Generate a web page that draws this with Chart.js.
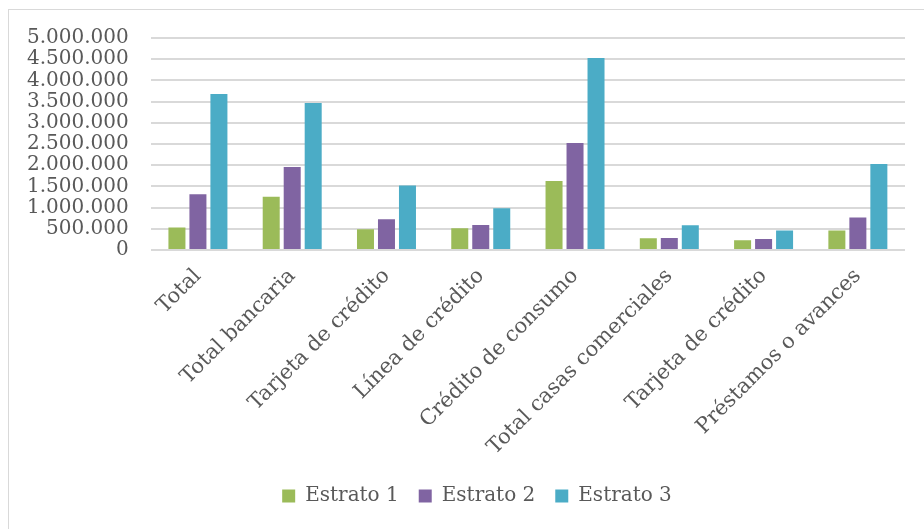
<!DOCTYPE html>
<html>
<head>
<meta charset="utf-8">
<script src="https://cdn.jsdelivr.net/npm/chart.js@4"></script>
<style>
  html, body { margin: 0; padding: 0; background: #fff; overflow: hidden; }
  #frame { position: absolute; left: 8px; top: 9px; width: 1000px; height: 1000px; border: 1px solid #d9d9d9; }
  #wrap { position: absolute; left: 0; top: 0; width: 924px; height: 529px; }
</style>
</head>
<body>
<div id="frame"></div>
<div id="wrap"><canvas id="chart" width="924" height="529"></canvas></div>
<script>
// Chart data
const categories = [
  "Total",
  "Total bancaria",
  "Tarjeta de crédito",
  "Línea de crédito",
  "Crédito de consumo",
  "Total casas comerciales",
  "Tarjeta de crédito",
  "Préstamos o avances",
];
const estrato1 = [526000, 1257000, 488000, 512000, 1627000, 276000, 228000, 456000];
const estrato2 = [1313000, 1957000, 724000, 590000, 2524000, 283000, 259000, 762000];
const estrato3 = [3679000, 3467000, 1517000, 983000, 4528000, 582000, 456000, 2028000];
const seriesNames = ["Estrato 1", "Estrato 2", "Estrato 3"];
const seriesColors = ["#9BBB59", "#8064A2", "#4BACC6"];

const FONT = "'DejaVu Serif', serif";

function formatThousands(v) {
  return v.toString().replace(/\B(?=(\d{3})+(?!\d))/g, ".");
}

// legend sits a little right of the canvas centre in the original
const legendShift = {
  id: "legendShift",
  afterLayout(chart) {
    chart.legend.left += 22;
    chart.legend.right += 22;
  },
};

const ctx = document.getElementById("chart").getContext("2d");
new Chart(ctx, {
  type: "bar",
  data: {
    labels: categories,
    datasets: [estrato1, estrato2, estrato3].map((d, i) => ({
      label: seriesNames[i],
      data: d,
      backgroundColor: seriesColors[i],
      borderWidth: 0,
      categoryPercentage: 0.668,
      barPercentage: 0.81,
    })),
  },
  plugins: [legendShift],
  options: {
    responsive: false,
    animation: false,
    layout: { padding: { top: 38, right: 19, left: 5, bottom: 13 } },
    plugins: {
      tooltip: { enabled: false },
      legend: {
        position: "bottom",
        labels: {
          boxWidth: 13,
          boxHeight: 13,
          padding: 20,
          color: "#595959",
          font: { family: FONT, size: 20 },
        },
      },
    },
    scales: {
      x: {
        grid: { display: false },
        border: { display: false },
        ticks: {
          color: "#595959",
          font: { family: FONT, size: 21 },
          maxRotation: 45,
          minRotation: 45,
          autoSkip: false,
          padding: 6,
        },
      },
      y: {
        min: 0,
        max: 5000000,
        border: { display: false },
        grid: { color: "#d9d9d9", lineWidth: 2, drawTicks: false },
        ticks: {
          stepSize: 500000,
          autoSkip: false,
          color: "#595959",
          padding: 22,
          font: { family: FONT, size: 20 },
          callback: (v) => formatThousands(v),
        },
      },
    },
  },
});
</script>
</body>
</html>
